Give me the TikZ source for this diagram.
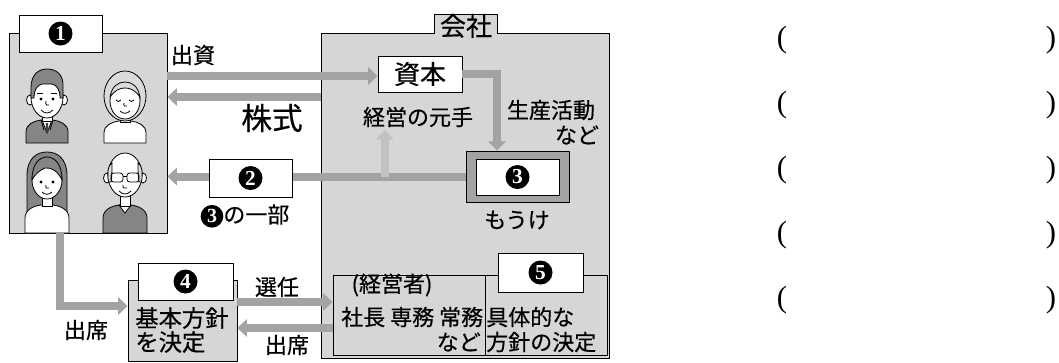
\documentclass[tikz,border=0pt]{standalone}
\usepackage{fontspec}
\setmainfont{Noto Sans CJK JP}[FakeBold=0.5]
\newfontfamily\numfont{Liberation Serif}
\usetikzlibrary{arrows.meta,fit}
\definecolor{screen}{gray}{0.84}
\definecolor{bandc}{gray}{0.64}
\definecolor{faint}{gray}{0.76}
\definecolor{dark}{gray}{0.52}
\definecolor{light}{gray}{0.86}
% black disc with a white serif digit, for use inside running text
\newcommand\cnum[1]{\tikz[baseline=(cn.base)]\node[circle,fill=black,text=white,inner sep=0pt,minimum size=17pt,font=\numfont\bfseries\fontsize{15}{15}\selectfont](cn){#1};}
\tikzset{
  panel/.style={draw, line width=0.7pt, fill=screen, inner sep=0pt},
  tagbox/.style={draw, line width=0.7pt, fill=white, inner sep=0pt},
  numdisc/.style={circle, fill=black, text=white, inner sep=0pt, minimum size=18pt, font=\numfont\bfseries\fontsize{16}{16}\selectfont},
  lbl/.style={inner sep=0pt, font=\fontsize{16.5}{20}\selectfont},
  band/.style={draw=bandc, line width=6pt},
  bandarrow/.style={band, -{Triangle[length=7pt,width=13pt]}},
  paren/.style={inner sep=0pt, font=\numfont\fontsize{23}{26}\selectfont},
  ink/.style={line width=0.6pt},
}
\begin{document}
\begin{tikzpicture}[x=0.75pt,y=-0.75pt]
\useasboundingbox (0,0) rectangle (1059,362);

% ---- shareholders ----
\node[panel, fit={(9,33)(167,233)}] (inv) {};

% man in a suit
\draw[ink, fill=dark] (26,143) -- (26,132) .. controls (26,124) and (34,121) .. (41,120) -- (53,120) .. controls (60,121) and (68,124) .. (68,132) -- (68,143) -- cycle;
\draw[ink, fill=white] (42,120) -- (47,133) -- (52,120) -- cycle;
\fill[black!75] (46,123) -- (48,123) -- (48.6,131) -- (47,133) -- (45.4,131) -- cycle;
\draw[ink] (41,120) -- (44,130) (53,120) -- (50,130);
\draw[ink, fill=white] (42,110) rectangle (52,121);
\draw[ink, fill=white] (30,100) ellipse [x radius=3.5, y radius=5];
\draw[ink, fill=white] (64,100) ellipse [x radius=3.5, y radius=5];
\draw[ink, fill=white] (47,97) ellipse [x radius=16, y radius=21];
\draw[ink, fill=dark] (31,98) -- (31,88) .. controls (31,74) and (39,69) .. (47,69) .. controls (56,69) and (64,74) .. (63,88) -- (63,98) -- (60,98) .. controls (60,90) and (57,85) .. (52,84) -- (42,84) .. controls (37,85) and (34,90) .. (34,98) -- cycle;
\fill (41,99) circle (1.7) (53,99) circle (1.7);
\draw[ink] (37,93) -- (43,93) (51,93) -- (57,93);
\draw[ink] (46,101) .. controls (45,105) and (47,106) .. (49,105);
\draw[ink] (41,110) .. controls (45,114) and (49,114) .. (53,110);

% elderly woman
\draw[ink, fill=white] (104,143) -- (104,133) .. controls (104,125) and (112,122) .. (119,121) -- (131,121) .. controls (138,122) and (146,125) .. (146,133) -- (146,143) -- cycle;
\draw[ink, fill=white] (120,112) rectangle (130,122);
\draw[ink, fill=light] (125,96) ellipse [x radius=21, y radius=25];
\draw[ink, fill=white] (125,101) ellipse [x radius=15, y radius=18];
\draw[ink, fill=light] (110,97) .. controls (112,86) and (118,82) .. (125,82) .. controls (132,82) and (138,86) .. (140,97) .. controls (135,90) and (130,88) .. (125,88) .. controls (120,88) and (115,90) .. (110,97);
\draw[ink] (116,100) .. controls (117,102) and (120,102) .. (121,100);
\draw[ink] (129,100) .. controls (130,102) and (133,102) .. (134,100);
\draw[ink] (124,103) .. controls (123,106) and (125,107) .. (127,106);
\draw[ink] (120,111) .. controls (123,114) and (127,114) .. (130,111);

% woman with long hair
\draw[ink, fill=dark] (27,212) -- (27,176) .. controls (27,158) and (37,152) .. (47,152) .. controls (57,152) and (67,158) .. (67,176) -- (67,212) -- cycle;
\draw[ink, fill=white] (25,233) -- (25,218) .. controls (25,210) and (33,206) .. (41,205) -- (53,205) .. controls (61,206) and (69,210) .. (69,218) -- (69,233) -- cycle;
\draw[ink, fill=white] (42,193) rectangle (52,206);
\draw[ink, fill=white] (47,180) ellipse [x radius=15, y radius=19];
\draw[ink, fill=dark] (32,180) .. controls (32,163) and (40,157) .. (47,157) .. controls (54,157) and (62,163) .. (62,180) .. controls (58,171) and (51,167) .. (45,168) .. controls (40,170) and (35,174) .. (32,180);
\fill (41,182) circle (1.7) (53,182) circle (1.7);
\draw[ink] (46,185) .. controls (45,188) and (47,189) .. (49,188);
\draw[ink] (42,192) .. controls (45,195) and (49,195) .. (52,192);

% bald man with glasses
\draw[ink, fill=dark] (103,233) -- (103,218) .. controls (103,210) and (111,206) .. (119,205) -- (131,205) .. controls (139,206) and (147,210) .. (147,218) -- (147,233) -- cycle;
\draw[ink, fill=white] (119,205) -- (125,213) -- (131,205) -- cycle;
\draw[ink, fill=white] (120,194) rectangle (130,206);
\draw[ink, fill=white] (107,178) ellipse [x radius=3.5, y radius=5];
\draw[ink, fill=white] (143,178) ellipse [x radius=3.5, y radius=5];
\draw[ink, fill=white] (125,175) ellipse [x radius=17, y radius=22];
\draw[ink, fill=light] (108.5,182) .. controls (107,172) and (108,165) .. (112,163) .. controls (112,170) and (112,176) .. (111,182) -- cycle;
\draw[ink, fill=light] (141.5,182) .. controls (143,172) and (142,165) .. (138,163) .. controls (138,170) and (138,176) .. (139,182) -- cycle;
\draw[ink, rounded corners=2] (111,173) rectangle (123,182);
\draw[ink, rounded corners=2] (127,173) rectangle (139,182);
\draw[ink] (123,176) -- (127,176);
\draw[ink] (123,185) .. controls (122,188) and (125,189) .. (127,188);
\draw[ink] (119,191) .. controls (123,195) and (127,195) .. (131,191);

\node[tagbox, fit={(19,15)(102,52)}] (t1) {};
\node[numdisc] (n1) at (t1.center) {1};

% ---- company ----
\node[panel, fit={(321,33)(609,358)}] (co) {};
\node[fill=screen, inner sep=0pt, fit={(435,15)(497,34)}] (cotab) {};
\draw[line width=0.7pt] (cotab.south west) |- (cotab.north east) -- (cotab.south east);
\node[lbl, font=\fontsize{19.5}{22}\selectfont] (colbl) at ([yshift=-1pt]cotab.center) {会社};

% ---- flows ----
\coordinate (kabu) at (0,97);
\coordinate (bend) at (497,0);
\coordinate (up) at (385,130);
\coordinate (down) at (60,306);

\node[fill=bandc, draw, line width=0.6pt, inner sep=0pt, fit={(466,151)(569,202)}] (three) {};
\node[tagbox, fit={(378,56)(462,92)}] (cap) {};
\node[lbl, font=\fontsize{19.5}{22}\selectfont] (captxt) at (cap.center) {資本};
\node[panel, fit={(128,280)(237,361)}] (kbox) {};
\node[panel, fit={(333,275)(607,355)}] (exec) {};

\draw[bandarrow] (inv.east |- 0,76) -- (cap.west |- 0,76);
\draw[bandarrow] (co.west |- kabu) -- (inv.east |- kabu);
\draw[bandarrow] (three.west) -- (inv.east |- three.west);
\draw[band, draw=faint, -{Triangle[length=7pt,width=13pt]}] (up |- three.west) -- (up);
\draw[bandarrow] (cap.east) -| (three.north -| bend);
\draw[bandarrow] (inv.south -| down) |- (kbox.west |- down);
\draw[bandarrow] (kbox.east |- 0,302) -- (exec.west |- 0,302);
\draw[bandarrow] (exec.west |- 0,328) -- (kbox.east |- 0,328);

% ---- boxes over the flows ----
\node[tagbox, fit={(476,159)(559,195)}] (t3) {};
\node[numdisc] (n3) at (t3.center) {3};
\node[tagbox, fit={(209,159)(292,197)}] (t2) {};
\node[numdisc] (n2) at (t2.center) {2};
\node[tagbox, fit={(138,263)(233,300)}] (t4) {};
\node[numdisc] (n4) at (t4.center) {4};
\draw[line width=0.7pt] (485,275) -- (485,355);
\node[tagbox, fit={(498,253)(583,292)}] (t5) {};
\node[numdisc] (n5) at (t5.center) {5};

% ---- labels ----
\node[lbl] (l1) at (193,55) {出資};
\node[lbl, font=\fontsize{23}{26}\selectfont] (l2) at (272,118) {株式};
\node[lbl] (l3) at (245,216) {\cnum{3}の一部};
\node[lbl] (l4) at (418,117) {経営の元手};
\node[lbl] (l5) at (551,110) {生産活動};
\node[lbl] (l6) at (577,135) {など};
\node[lbl] (l7) at (517,220) {もうけ};
\node[lbl] (l8) at (86,330) {出席};
\node[lbl, font=\fontsize{17.5}{18}\selectfont, align=left] (l9) at (182,330) {基本方針\\を決定};
\node[lbl] (l10) at (277,287) {選任};
\node[lbl] (l11) at (287,345) {出席};
\node[lbl] (l12) at (392,285) {(経営者)};
\node[lbl, anchor=west] (l13) at (341,317) {社長 専務 常務};
\node[lbl, anchor=east] (l14) at (481,342) {など};
\node[lbl, anchor=west] (l15) at (486,317) {具体的な};
\node[lbl, anchor=west] (l16) at (486,342) {方針の決定};

% ---- answer slots ----
\foreach \i/\y in {1/40,2/105,3/170,4/235,5/300}{
  \node[paren] (pl\i) at (782,\y) {(};
  \node[paren] (pr\i) at (1051,\y) {)};
}
\end{tikzpicture}
\end{document}
